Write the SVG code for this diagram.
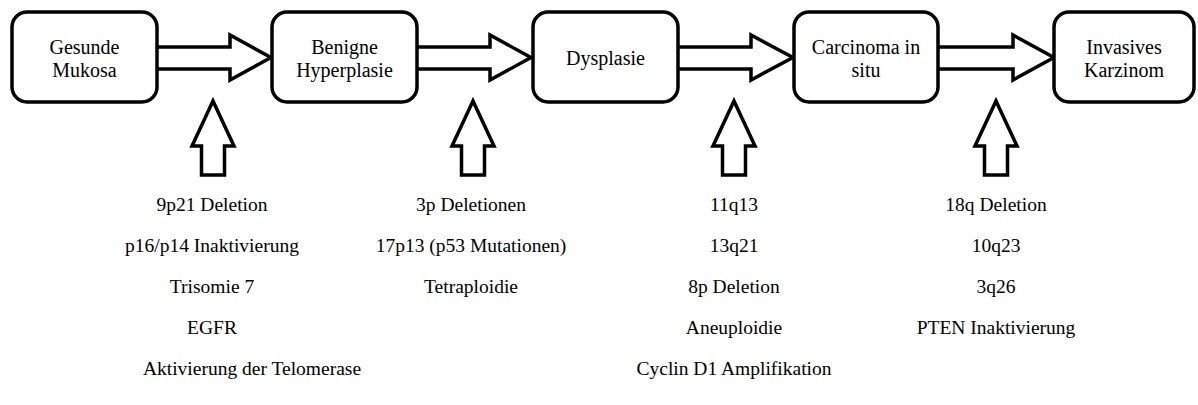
<svg xmlns="http://www.w3.org/2000/svg" width="1198" height="405" viewBox="0 0 1198 405" font-family="'Liberation Serif', 'Times New Roman', 'DejaVu Serif', serif">
<style>
.box{fill:#fff;stroke:#000;stroke-width:3.5}
.arr{fill:#fff;stroke:#000;stroke-width:3.5;stroke-linejoin:miter}
text{font-family:'Liberation Serif','Times New Roman','DejaVu Serif',serif;font-size:20px;fill:#000;text-anchor:middle}
text.t{font-size:19.5px}
</style>
<rect width="1198" height="405" fill="#fff"/>
<g id="connectors">
<path class="arr" d="M157,47 H230 V35 L271,57.5 L230,80 V69 H157"/>
<path class="arr" d="M417,47 H490 V35 L531,57.5 L490,80 V69 H417"/>
<path class="arr" d="M678,47 H751 V35 L793,57.5 L751,80 V69 H678"/>
<path class="arr" d="M938,47 H1013 V35 L1054,57.5 L1013,80 V69 H938"/>
<path class="arr" d="M213,101 L234,146 H224.5 V175 H201.5 V146 H192 Z"/>
<path class="arr" d="M473,101 L494,146 H484.5 V175 H461.5 V146 H452 Z"/>
<path class="arr" d="M734,101 L755,146 H745.5 V175 H722.5 V146 H713 Z"/>
<path class="arr" d="M996,101 L1017,146 H1007.5 V175 H984.5 V146 H975 Z"/>
</g>
<g id="n1"><rect class="box" x="12" y="12" width="145" height="90" rx="15"/><text x="84.5" y="54">Gesunde</text><text x="84.5" y="77">Mukosa</text></g>
<g id="n2"><rect class="box" x="272" y="12" width="145" height="90" rx="15"/><text x="344.5" y="54">Benigne</text><text x="344.5" y="77">Hyperplasie</text></g>
<g id="n3"><rect class="box" x="533" y="12" width="145" height="90" rx="15"/><text x="605.5" y="65">Dysplasie</text></g>
<g id="n4"><rect class="box" x="794" y="12" width="144" height="90" rx="15"/><text x="866" y="54">Carcinoma in</text><text x="866" y="77">situ</text></g>
<g id="n5"><rect class="box" x="1054" y="12" width="140" height="90" rx="15"/><text x="1124" y="54">Invasives</text><text x="1124" y="77">Karzinom</text></g>
<g id="l1">
<text class="t" x="212" y="211">9p21 Deletion</text>
<text class="t" x="212" y="252">p16/p14 Inaktivierung</text>
<text class="t" x="212" y="293">Trisomie 7</text>
<text class="t" x="212" y="334">EGFR</text>
<text class="t" x="252" y="375">Aktivierung der Telomerase</text>
</g>
<g id="l2">
<text class="t" x="471" y="211">3p Deletionen</text>
<text class="t" x="471" y="252">17p13 (p53 Mutationen)</text>
<text class="t" x="471" y="293">Tetraploidie</text>
</g>
<g id="l3">
<text class="t" x="734" y="211">11q13</text>
<text class="t" x="734" y="252">13q21</text>
<text class="t" x="734" y="293">8p Deletion</text>
<text class="t" x="734" y="334">Aneuploidie</text>
<text class="t" x="734" y="375">Cyclin D1 Amplifikation</text>
</g>
<g id="l4">
<text class="t" x="996" y="211">18q Deletion</text>
<text class="t" x="996" y="252">10q23</text>
<text class="t" x="996" y="293">3q26</text>
<text class="t" x="996" y="334">PTEN Inaktivierung</text>
</g>
</svg>
